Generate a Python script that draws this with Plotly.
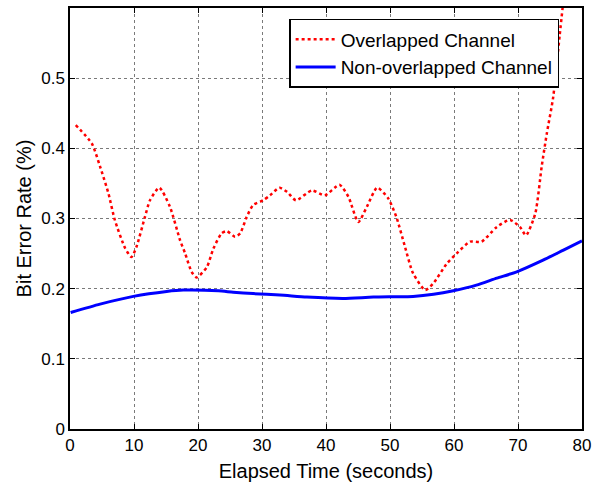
import plotly.graph_objects as go

overlap_x = [0.9, 3.4, 4.7, 6.0, 7.0, 8.6, 9.6, 10.4, 11.7, 12.5, 13.95, 15.6, 17.2, 18.0, 19.0, 19.8,
             21.4, 22.4, 23.7, 24.5, 25.8, 26.6, 27.6, 28.6, 30.2, 31.25, 32.7, 33.9, 35.3, 37.8, 39.8,
             42.1, 43.5, 45.05, 46.4, 48.0, 49.7, 51.0, 52.3, 53.6, 55.5, 56.8, 58.9, 60.4, 62.5, 64.3,
             66.7, 68.75, 70.3, 71.25, 72.7, 73.7, 74.5, 75.5, 76.5, 77.2]
overlap_y = [0.433, 0.407, 0.374, 0.336, 0.298, 0.258, 0.245, 0.260, 0.302, 0.326, 0.344, 0.317, 0.269,
             0.250, 0.224, 0.216, 0.231, 0.257, 0.279, 0.282, 0.274, 0.279, 0.302, 0.319, 0.326, 0.333,
             0.344, 0.338, 0.326, 0.340, 0.333, 0.348, 0.331, 0.295, 0.317, 0.344, 0.329, 0.302, 0.261,
             0.222, 0.198, 0.208, 0.236, 0.250, 0.267, 0.267, 0.288, 0.298, 0.288, 0.276, 0.307, 0.374,
             0.421, 0.473, 0.56, 0.62]

nonoverlap_x = [0.1, 4.7, 9.9, 15.1, 17.7, 23.2, 25.5, 28.6, 32.8, 37.0, 42.7, 47.4, 53.6, 56.8, 59.9,
                63.5, 66.7, 69.8, 74.0, 77.1, 80.0]
nonoverlap_y = [0.166, 0.178, 0.189, 0.196, 0.198, 0.197, 0.195, 0.193, 0.191, 0.188, 0.186, 0.188, 0.189,
                0.192, 0.197, 0.205, 0.215, 0.224, 0.241, 0.255, 0.268]

x_ticks = [0, 10, 20, 30, 40, 50, 60, 70, 80]
y_ticks = [0, 0.1, 0.2, 0.3, 0.4, 0.5]
y_tick_labels = ["0", "0.1", "0.2", "0.3", "0.4", "0.5"]

FONT = "Liberation Sans, Arial, sans-serif"

fig = go.Figure()
fig.add_trace(go.Scatter(x=overlap_x, y=overlap_y, mode="lines", name="Overlapped Channel",
                         line=dict(color="#ff0000", width=2.5, dash="dot", shape="spline", smoothing=0.6)))
fig.add_trace(go.Scatter(x=nonoverlap_x, y=nonoverlap_y, mode="lines", name="Non-overlapped Channel",
                         line=dict(color="#0000ff", width=3, shape="spline", smoothing=0.6)))

axis_common = dict(showline=True, linecolor="black", linewidth=1.5, mirror="allticks",
                   ticks="inside", ticklen=5, tickcolor="black", showgrid=True,
                   gridcolor="#7a7a7a", griddash="dot", gridwidth=1, zeroline=False,
                   automargin=False,
                   tickfont=dict(size=17, color="black", family=FONT))

fig.update_xaxes(range=[0, 80], tickvals=x_ticks, ticktext=[str(v) for v in x_ticks],
                 title=dict(text="Elapsed Time (seconds)", font=dict(size=20, color="black", family=FONT),
                            standoff=10),
                 **axis_common)
fig.update_yaxes(range=[0, 0.6], tickvals=y_ticks, ticktext=y_tick_labels,
                 title=dict(text="Bit Error Rate (%)", font=dict(size=20, color="black", family=FONT),
                            standoff=4),
                 **axis_common)

fig.update_layout(
    width=596, height=489,
    margin=dict(l=70, r=14, t=8, b=60),
    plot_bgcolor="white", paper_bgcolor="white",
    font=dict(family=FONT, color="black"),
    legend=dict(x=0.428, y=0.974, xanchor="left", yanchor="top",
                bgcolor="white", bordercolor="black", borderwidth=1.5,
                font=dict(size=19, color="black", family=FONT),
                tracegroupgap=0, itemwidth=40),
    showlegend=True,
)

fig.write_html("out.html", config={"displayModeBar": False},
               post_script="document.body.style.margin='0';document.body.style.overflow='hidden';")
